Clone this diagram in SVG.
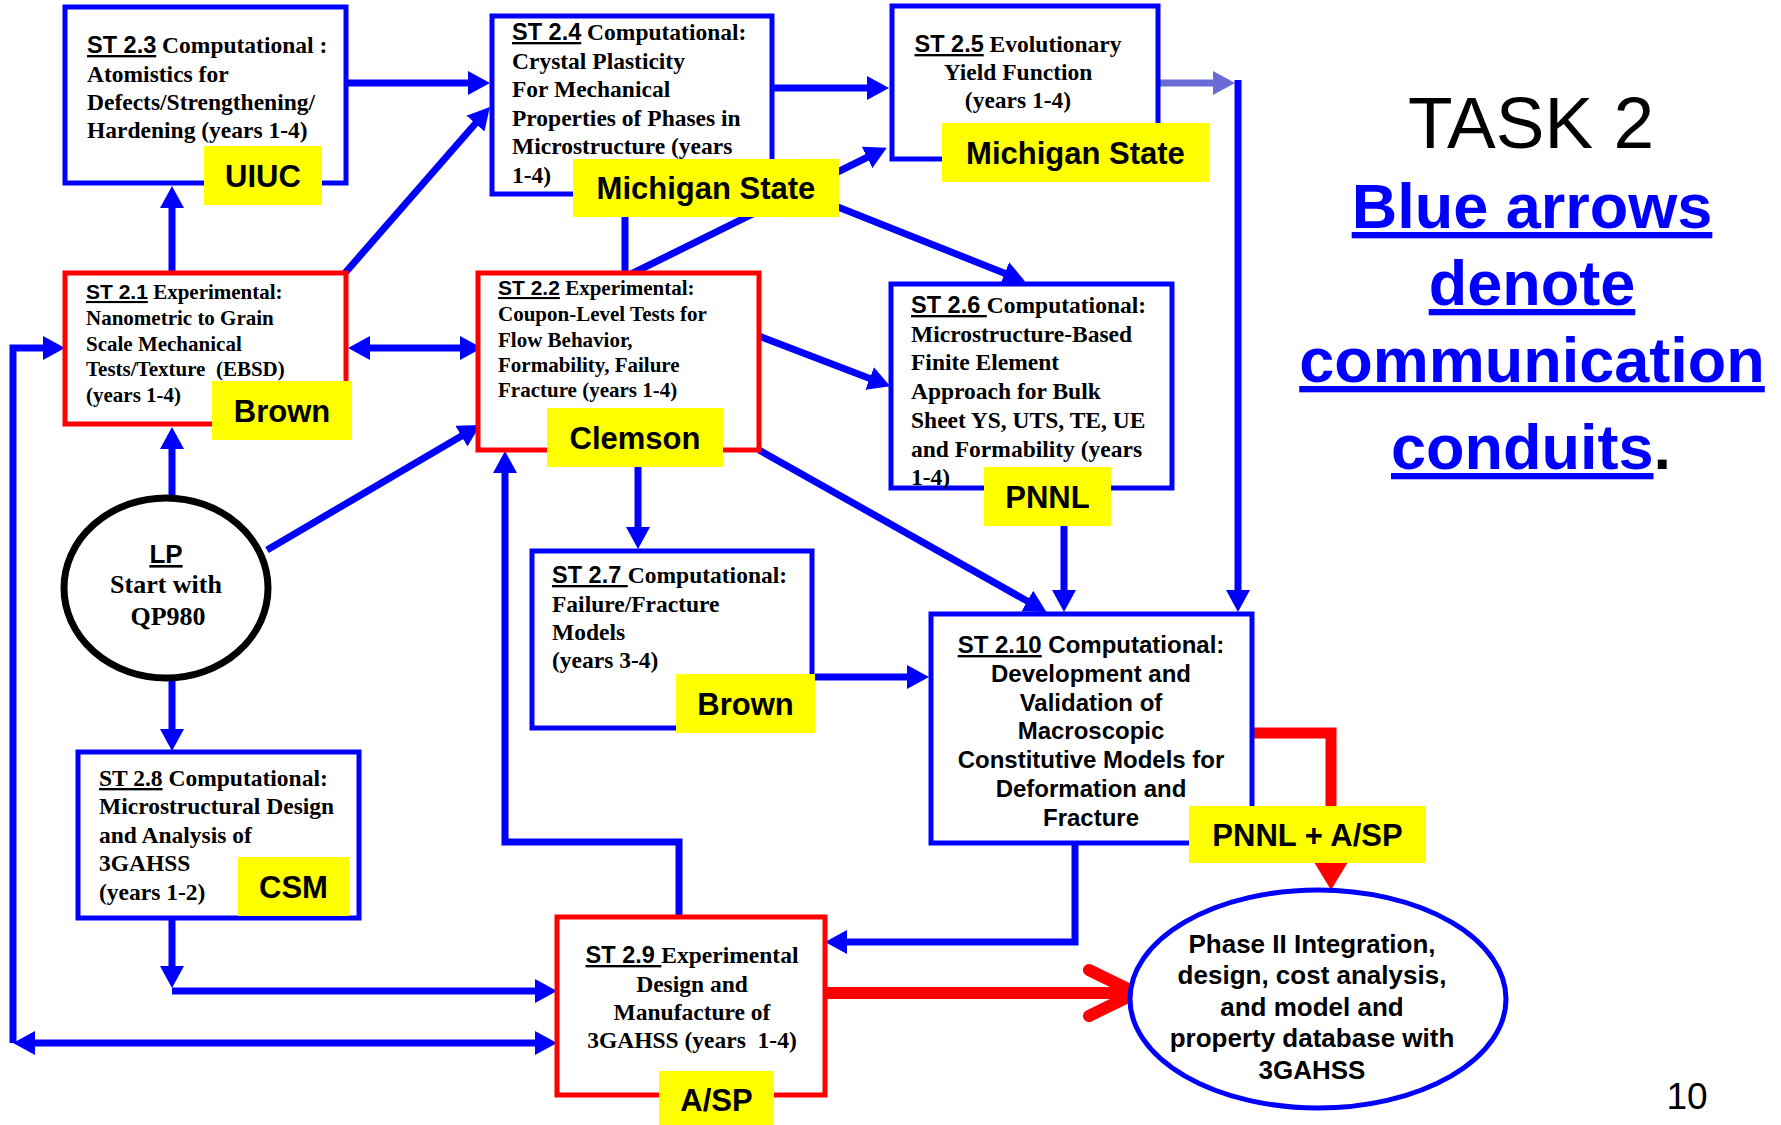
<svg xmlns="http://www.w3.org/2000/svg" width="1781" height="1125" viewBox="0 0 1781 1125">
<style>
.box{fill:#fff;stroke:#0000FF;stroke-width:5}
.rbox{fill:#fff;stroke:#FF0000;stroke-width:5}
.lbl{fill:#FFFF00}
.lt{font-family:"Liberation Sans",Arial,sans-serif;font-weight:bold;font-size:31px;text-anchor:middle;fill:#000}
.tx{font-family:"Liberation Serif","Times New Roman",serif;font-weight:bold;font-size:23.5px;fill:#000}
.tx21{font-family:"Liberation Serif","Times New Roman",serif;font-weight:bold;font-size:21px;fill:#000}
.ax{font-family:"Liberation Sans",Arial,sans-serif;font-weight:bold;font-size:24px;fill:#000;text-anchor:middle}
.st{font-family:"Liberation Sans",Arial,sans-serif;text-decoration:underline}
.c{fill:none;stroke:#0000FF;stroke-width:7}
.r{fill:none;stroke:#FF0000;stroke-width:11}
.big{font-family:"Liberation Sans",Arial,sans-serif;font-weight:bold;font-size:63px;fill:#0000FF;text-anchor:middle;text-decoration:underline;text-decoration-thickness:7px}
</style>
<defs>
<marker id="ah" markerUnits="userSpaceOnUse" markerWidth="22" markerHeight="24" viewBox="0 0 22 24" refX="10" refY="12" orient="auto-start-reverse"><path d="M0,0L22,12L0,24z" fill="#0000FF"/></marker>
<marker id="ahl" markerUnits="userSpaceOnUse" markerWidth="22" markerHeight="24" viewBox="0 0 22 24" refX="10" refY="12" orient="auto"><path d="M0,0L22,12L0,24z" fill="#6B6BD6"/></marker>
<marker id="ahr" markerUnits="userSpaceOnUse" markerWidth="28" markerHeight="34" viewBox="0 0 28 34" refX="12" refY="17" orient="auto"><path d="M0,0L28,17L0,34z" fill="#FF0000"/></marker>
</defs>
<rect width="1781" height="1125" fill="#fff"/>

<g id="connectors">
<path class="c" d="M346,83H478" marker-end="url(#ah)"/>
<path class="c" d="M172,272V198" marker-end="url(#ah)"/>
<path class="c" d="M345,273L482,116" marker-end="url(#ah)"/>
<path class="c" d="M772,88H877" marker-end="url(#ah)"/>
<path class="c" d="M625,194V277L876,153" marker-end="url(#ah)"/>
<path class="c" d="M780,184L1014,277" marker-end="url(#ah)"/>
<path d="M1158,83H1223" fill="none" stroke="#6B6BD6" stroke-width="7" marker-end="url(#ahl)"/>
<path class="c" d="M1238,80V600" marker-end="url(#ah)"/>
<path class="c" d="M360,348H470" marker-start="url(#ah)" marker-end="url(#ah)"/>
<path class="c" d="M172,498V439" marker-end="url(#ah)"/>
<path class="c" d="M267,550L470,431" marker-end="url(#ah)"/>
<path class="c" d="M172,678V739" marker-end="url(#ah)"/>
<path class="c" d="M759,336L879,382" marker-end="url(#ah)"/>
<path class="c" d="M638,467V537" marker-end="url(#ah)"/>
<path class="c" d="M759,450L1036,606" marker-end="url(#ah)"/>
<path class="c" d="M1064,526V600" marker-end="url(#ah)"/>
<path class="c" d="M815,677H917" marker-end="url(#ah)"/>
<path class="c" d="M1075,843V942H837" marker-end="url(#ah)"/>
<path class="c" d="M679,917V842H505V463" marker-end="url(#ah)"/>
<path class="c" d="M172,918V976" marker-end="url(#ah)"/>
<path class="c" d="M172,991H545" marker-end="url(#ah)"/>
<path class="c" d="M13,1043V348H53" marker-end="url(#ah)"/>
<path class="c" d="M25,1043H545" marker-start="url(#ah)" marker-end="url(#ah)"/>
<path class="r" d="M1252,733H1331V874" marker-end="url(#ahr)"/>
<path d="M825,993H1130" fill="none" stroke="#FF0000" stroke-width="12"/>
<path d="M1089,970L1136,993L1089,1016" fill="none" stroke="#FF0000" stroke-width="12" stroke-linecap="round" stroke-linejoin="round"/>
</g>

<g id="st23">
<rect class="box" x="65" y="7" width="281" height="176"/>
<text class="tx" x="87" y="53"><tspan class="st">ST 2.3</tspan> Computational :</text>
<text class="tx" x="87" y="82">Atomistics for</text>
<text class="tx" x="87" y="110">Defects/Strengthening/</text>
<text class="tx" x="87" y="138">Hardening (years 1-4)</text>
<rect class="lbl" x="204" y="146" width="118" height="59"/>
<text class="lt" x="263" y="187">UIUC</text>
</g>

<g id="st24">
<rect class="box" x="492" y="16" width="280" height="178"/>
<text class="tx" x="512" y="40"><tspan class="st">ST 2.4</tspan> Computational:</text>
<text class="tx" x="512" y="69">Crystal Plasticity</text>
<text class="tx" x="512" y="97">For Mechanical</text>
<text class="tx" x="512" y="126">Properties of Phases in</text>
<text class="tx" x="512" y="154">Microstructure (years</text>
<text class="tx" x="512" y="183">1-4)</text>
<rect class="lbl" x="573" y="159" width="266" height="58"/>
<text class="lt" x="706" y="199">Michigan State</text>
</g>

<g id="st25">
<rect class="box" x="892" y="6" width="266" height="153"/>
<text class="tx" x="1018" y="52" text-anchor="middle"><tspan class="st">ST 2.5</tspan> Evolutionary</text>
<text class="tx" x="1018" y="80" text-anchor="middle">Yield Function</text>
<text class="tx" x="1018" y="108" text-anchor="middle">(years 1-4)</text>
<rect class="lbl" x="942" y="123" width="267" height="59"/>
<text class="lt" x="1075.5" y="163.5">Michigan State</text>
</g>

<g id="st21">
<rect class="rbox" x="65" y="273" width="281" height="151"/>
<text class="tx21" x="86" y="299"><tspan class="st">ST 2.1</tspan> Experimental:</text>
<text class="tx21" x="86" y="325">Nanometric to Grain</text>
<text class="tx21" x="86" y="351">Scale Mechanical</text>
<text class="tx21" x="86" y="376" xml:space="preserve">Tests/Texture  (EBSD)</text>
<text class="tx21" x="86" y="402">(years 1-4)</text>
<rect class="lbl" x="212" y="381" width="140" height="59"/>
<text class="lt" x="282" y="421.5">Brown</text>
</g>

<g id="st22">
<rect class="rbox" x="478" y="273" width="281" height="177"/>
<text class="tx21" x="498" y="295"><tspan class="st">ST 2.2</tspan> Experimental:</text>
<text class="tx21" x="498" y="321">Coupon-Level Tests for</text>
<text class="tx21" x="498" y="347">Flow Behavior,</text>
<text class="tx21" x="498" y="372">Formability, Failure</text>
<text class="tx21" x="498" y="397">Fracture (years 1-4)</text>
<rect class="lbl" x="547" y="408" width="176" height="59"/>
<text class="lt" x="635" y="448.5">Clemson</text>
</g>

<g id="st26">
<rect class="box" x="891" y="284" width="281" height="204"/>
<text class="tx" x="911" y="313"><tspan class="st">ST 2.6 </tspan>Computational:</text>
<text class="tx" x="911" y="342">Microstructure-Based</text>
<text class="tx" x="911" y="370">Finite Element</text>
<text class="tx" x="911" y="399">Approach for Bulk</text>
<text class="tx" x="911" y="428">Sheet YS, UTS, TE, UE</text>
<text class="tx" x="911" y="457">and Formability (years</text>
<text class="tx" x="911" y="485">1-4)</text>
<rect class="lbl" x="984" y="467" width="127" height="59"/>
<text class="lt" x="1047.5" y="507.5">PNNL</text>
</g>

<g id="st27">
<rect class="box" x="532" y="551" width="280" height="177"/>
<text class="tx" x="552" y="583"><tspan class="st">ST 2.7 </tspan>Computational:</text>
<text class="tx" x="552" y="612">Failure/Fracture</text>
<text class="tx" x="552" y="640">Models</text>
<text class="tx" x="552" y="668">(years 3-4)</text>
<rect class="lbl" x="676" y="674" width="139" height="59"/>
<text class="lt" x="745.5" y="714.5">Brown</text>
</g>

<g id="st210">
<rect class="box" x="931" y="614" width="321" height="229"/>
<text class="ax" x="1091" y="653"><tspan class="st">ST 2.10</tspan> Computational:</text>
<text class="ax" x="1091" y="682">Development and</text>
<text class="ax" x="1091" y="711">Validation of</text>
<text class="ax" x="1091" y="739">Macroscopic</text>
<text class="ax" x="1091" y="768">Constitutive Models for</text>
<text class="ax" x="1091" y="797">Deformation and</text>
<text class="ax" x="1091" y="826">Fracture</text>
<rect class="lbl" x="1189" y="806" width="237" height="57"/>
<text class="lt" x="1307.5" y="845.5">PNNL + A/SP</text>
</g>

<g id="lp">
<ellipse cx="166" cy="588" rx="102" ry="90" fill="#fff" stroke="#000" stroke-width="7"/>
<text x="166" y="563" text-anchor="middle" font-family="Liberation Sans, Arial, sans-serif" font-weight="bold" font-size="26" text-decoration="underline">LP</text>
<text x="166" y="593" text-anchor="middle" font-family="Liberation Serif, Times New Roman, serif" font-weight="bold" font-size="26">Start with</text>
<text x="168" y="625" text-anchor="middle" font-family="Liberation Serif, Times New Roman, serif" font-weight="bold" font-size="26">QP980</text>
</g>

<g id="st28">
<rect class="box" x="78" y="752" width="281" height="166"/>
<text class="tx" x="99" y="786"><tspan text-decoration="underline">ST 2.8</tspan> Computational:</text>
<text class="tx" x="99" y="814">Microstructural Design</text>
<text class="tx" x="99" y="843">and Analysis of</text>
<text class="tx" x="99" y="871">3GAHSS</text>
<text class="tx" x="99" y="900">(years 1-2)</text>
<rect class="lbl" x="238" y="857" width="111" height="59"/>
<text class="lt" x="293.5" y="897.5">CSM</text>
</g>

<g id="st29">
<rect class="rbox" x="557" y="917" width="268" height="178"/>
<text class="tx" x="692" y="963" text-anchor="middle"><tspan class="st">ST 2.9 </tspan>Experimental</text>
<text class="tx" x="692" y="992" text-anchor="middle">Design and</text>
<text class="tx" x="692" y="1020" text-anchor="middle">Manufacture of</text>
<text class="tx" x="692" y="1048" text-anchor="middle" xml:space="preserve">3GAHSS (years  1-4)</text>
<rect class="lbl" x="659" y="1071" width="115" height="54"/>
<text class="lt" x="716.5" y="1111">A/SP</text>
</g>

<g id="phase2">
<ellipse cx="1318" cy="999" rx="188" ry="109" fill="#fff" stroke="#0000FF" stroke-width="5"/>
<text x="1312" y="953" font-family="Liberation Sans, Arial, sans-serif" font-weight="bold" font-size="26" text-anchor="middle">Phase II Integration,</text>
<text x="1312" y="984" font-family="Liberation Sans, Arial, sans-serif" font-weight="bold" font-size="26" text-anchor="middle">design, cost analysis,</text>
<text x="1312" y="1016" font-family="Liberation Sans, Arial, sans-serif" font-weight="bold" font-size="26" text-anchor="middle">and model and</text>
<text x="1312" y="1047" font-family="Liberation Sans, Arial, sans-serif" font-weight="bold" font-size="26" text-anchor="middle">property database with</text>
<text x="1312" y="1079" font-family="Liberation Sans, Arial, sans-serif" font-weight="bold" font-size="26" text-anchor="middle">3GAHSS</text>
</g>

<g id="legend">
<text x="1531" y="148" font-family="Liberation Sans, Arial, sans-serif" font-size="73" text-anchor="middle">TASK 2</text>
<text class="big" x="1532" y="228">Blue arrows</text>
<text class="big" x="1532" y="305">denote</text>
<text class="big" x="1532" y="382">communication</text>
<text x="1531" y="469" font-family="Liberation Sans, Arial, sans-serif" font-weight="bold" font-size="63" text-anchor="middle"><tspan fill="#0000FF" text-decoration="underline" style="text-decoration-thickness:7px">conduits</tspan><tspan fill="#000">.</tspan></text>
</g>

<text x="1687" y="1109" font-family="Liberation Sans, Arial, sans-serif" font-size="37" text-anchor="middle">10</text>
</svg>
